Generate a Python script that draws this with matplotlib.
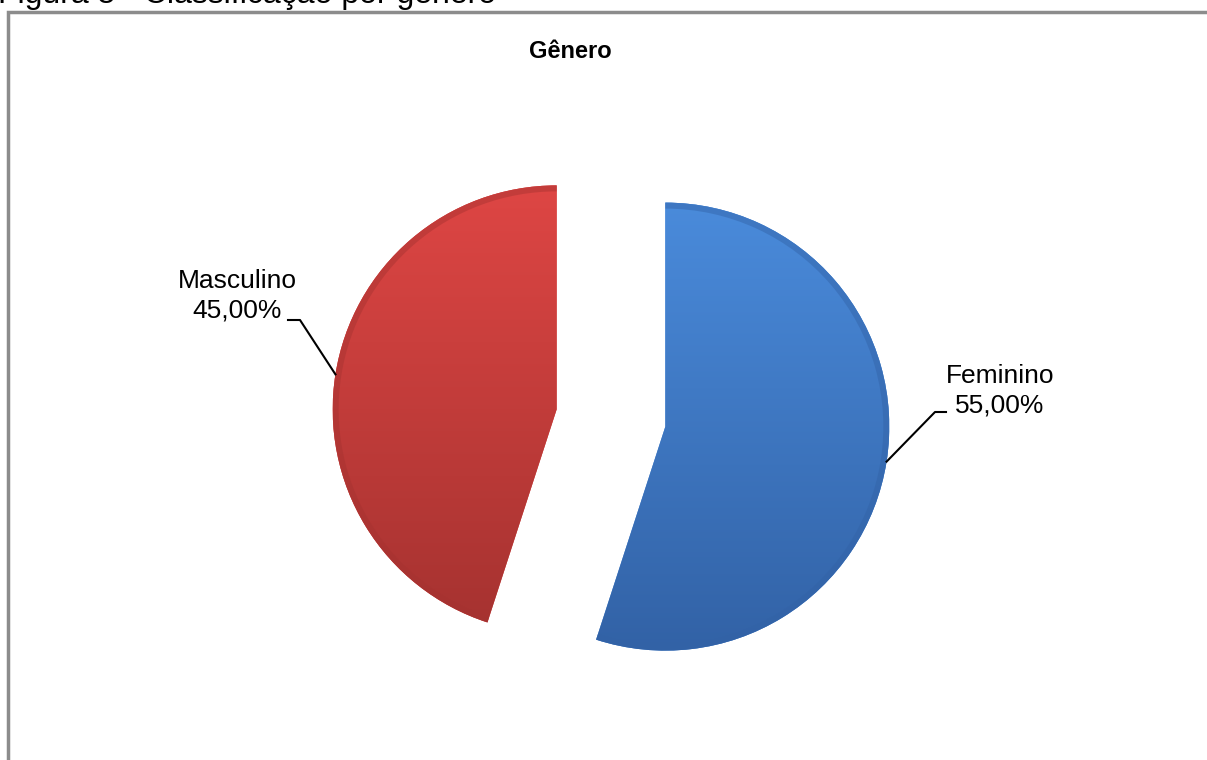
import matplotlib
matplotlib.use('Agg')
import matplotlib.pyplot as plt
import numpy as np
from matplotlib.colors import LinearSegmentedColormap

plt.rcParams['font.family'] = ['Liberation Sans', 'DejaVu Sans']

labels = ["Feminino", "Masculino"]
values = [55.0, 45.0]
top_colors = ["#4a8bdb", "#de4644"]
bottom_colors = ["#3262a6", "#a53230"]

W, H = 1207, 760

fig = plt.figure(figsize=(W / 100, H / 100), dpi=100)
ax = fig.add_axes([0, 0, 1, 1])

# caption above the chart frame (cut off at the top, as in the source)
fig.text(-2 / W, (H - 3.5) / H, "Figura 5 - Classificação por gênero",
         fontsize=23, va='baseline', ha='left')

# chart frame (right edge falls outside the picture)
ax.plot([8, 8, 1210], [-5, H - 11.5, H - 11.5], color='#8c8c8c', lw=2.5,
        solid_joinstyle='miter')

ax.text(570, H - 51, "Gênero", fontsize=17, fontweight='bold', ha='center', va='center')

radius = 224
wedges, _ = ax.pie(values, center=(611, H - 418), radius=radius, explode=[55, 55],
                   startangle=90, counterclock=False, colors=top_colors,
                   wedgeprops=dict(linewidth=0), frame=True)

for w, c1, c2 in zip(wedges, top_colors, bottom_colors):
    cx, cy = w.center
    cmap = LinearSegmentedColormap.from_list('g', [c2, c1])
    grad = np.linspace(0, 1, 256).reshape(-1, 1)
    img = ax.imshow(grad, cmap=cmap, origin='lower', aspect='auto',
                    extent=[cx - radius, cx + radius, cy - radius, cy + radius], zorder=2)
    img.set_clip_path(w)
    # darker rim
    ax.add_patch(matplotlib.patches.Wedge((cx, cy), radius, w.theta1, w.theta2,
                                          width=6, facecolor=c2, alpha=0.45,
                                          edgecolor='none', zorder=3))

# labels with leader lines
label_pos = [(1000, H - 391), (237, H - 296)]
elbows = [[(935, H - 412), (946, H - 412)], [(300, H - 320), (288, H - 320)]]
for w, lab, val, pos, elb in zip(wedges, labels, values, label_pos, elbows):
    cx, cy = w.center
    ang = np.deg2rad(0.5 * (w.theta1 + w.theta2))
    ex, ey = cx + radius * np.cos(ang), cy + radius * np.sin(ang)
    xs = [ex] + [p[0] for p in elb]
    ys = [ey] + [p[1] for p in elb]
    ax.plot(xs, ys, color='black', lw=1.5, zorder=4)
    txt = f"{lab}\n{val:.2f}%".replace('.', ',')
    ax.text(pos[0], pos[1], txt, fontsize=19, ha='center', va='center',
            linespacing=1.3, zorder=5)

ax.set_xlim(0, W)
ax.set_ylim(0, H)
ax.set_aspect('equal')
ax.set_axis_off()

fig.savefig('out.png', dpi=100)
